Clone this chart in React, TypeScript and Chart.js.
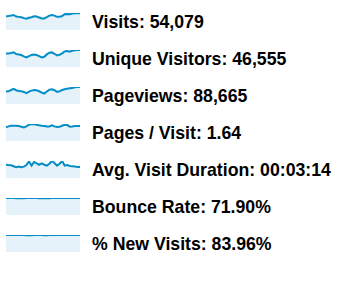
import React, { useEffect, useRef } from "react";
import { Chart, registerables } from "chart.js";

Chart.register(...registerables);

const days = [
  "1", "2", "3", "4", "5", "6", "7", "8", "9", "10",
  "11", "12", "13", "14", "15", "16", "17", "18", "19", "20",
  "21", "22", "23", "24", "25", "26", "27", "28", "29", "30",
];

const metricNames = [
  "Visits",
  "Unique Visitors",
  "Pageviews",
  "Pages / Visit",
  "Avg. Visit Duration",
  "Bounce Rate",
  "% New Visits",
];

const metricTotals = [
  "54,079",
  "46,555",
  "88,665",
  "1.64",
  "00:03:14",
  "71.90%",
  "83.96%",
];

const visits = [
  1730, 1770, 1820, 1900, 1700, 1660, 1620, 1500, 1420, 1540,
  1620, 1730, 1700, 1580, 1460, 1460, 1620, 1820, 1900, 1820,
  1660, 1660, 1770, 2000, 2030, 2000, 2080, 2110, 2150, 2110,
];

const uniqueVisitors = [
  1480, 1480, 1520, 1590, 1410, 1370, 1300, 1150, 1040, 1190,
  1300, 1370, 1300, 1190, 1040, 1110, 1370, 1550, 1590, 1440,
  1260, 1330, 1480, 1700, 1740, 1660, 1780, 1810, 1850, 1850,
];

const pageviews = [
  2560, 2620, 2890, 3100, 2830, 2690, 2620, 2490, 2220, 2560,
  2760, 2890, 2830, 2620, 2360, 2150, 2560, 2960, 3030, 2830,
  2490, 2620, 2890, 3030, 3160, 3230, 3300, 3430, 3500, 3500,
];

const pagesPerVisit = [
  1.42, 1.53, 1.6, 1.6, 1.6, 1.57, 1.5, 1.42, 1.53, 1.71,
  1.78, 1.74, 1.71, 1.64, 1.6, 1.57, 1.53, 1.53, 1.64, 1.53,
  1.46, 1.5, 1.6, 1.71, 1.67, 1.5, 1.53, 1.57, 1.57, 1.57,
];

const avgDuration = [
  187, 182, 180, 166, 151, 161, 151, 161, 182, 235,
  175, 226, 206, 187, 206, 187, 175, 202, 240, 211,
  175, 202, 240, 175, 182, 170, 166, 161, 156, 156,
];

const bounceRate = [
  72.6, 72.5, 72.4, 72.3, 72.0, 71.4, 71.2, 71.6, 72.2, 72.4,
  72.5, 72.3, 72.2, 72.0, 71.5, 71.3, 71.2, 71.6, 72.1, 72.3,
  72.4, 72.5, 72.4, 72.5, 72.3, 72.4, 72.5, 72.4, 72.5, 72.6,
];

const newVisits = [
  84.6, 84.5, 84.6, 84.5, 84.4, 84.5, 84.6, 84.0, 83.6, 83.5,
  83.6, 84.2, 84.5, 84.3, 84.0, 83.6, 83.5, 84.0, 84.3, 84.5,
  84.4, 84.5, 84.6, 84.5, 84.4, 84.2, 84.0, 84.3, 84.5, 84.6,
];

const seriesList = [
  visits,
  uniqueVisitors,
  pageviews,
  pagesPerVisit,
  avgDuration,
  bounceRate,
  newVisits,
];

const LINE = "#058dc7";
const FILL = "#e6f2fa";
const ROW_H = 37;

function Sparkline({ data }: { data: number[] }) {
  const ref = useRef<HTMLCanvasElement | null>(null);
  useEffect(() => {
    if (!ref.current) return;
    const chart = new Chart(ref.current, {
      type: "line",
      data: {
        labels: days,
        datasets: [
          {
            data,
            borderColor: LINE,
            backgroundColor: FILL,
            borderWidth: 2,
            fill: "origin",
            pointRadius: 0,
            tension: 0,
          },
        ],
      },
      options: {
        responsive: false,
        animation: false,
        events: [],
        layout: { padding: { top: 4, left: 1, right: 1, bottom: 0 } },
        plugins: { legend: { display: false }, tooltip: { enabled: false } },
        scales: {
          x: { display: false },
          y: { display: false, min: 0, max: Math.max(...data) },
        },
      },
    });
    return () => chart.destroy();
  }, [data]);
  return (
    <canvas
      ref={ref}
      width={76}
      height={21}
      style={{ position: "absolute", left: 5, top: 9, width: 76, height: 21 }}
    />
  );
}

export default function App() {
  return (
    <div
      style={{
        position: "absolute",
        left: 0,
        top: 0,
        width: 350,
        height: 294,
        background: "#ffffff",
        overflow: "hidden",
        fontFamily: "'Liberation Sans', Arial, Helvetica, sans-serif",
      }}
    >
      {metricNames.map((name, i) => (
        <div
          key={name}
          style={{ position: "absolute", left: 0, top: i * ROW_H, width: 350, height: ROW_H }}
        >
          <Sparkline data={seriesList[i]} />
          <div
            style={{
              position: "absolute",
              left: 92,
              top: 13,
              fontSize: 17.7,
              lineHeight: "18px",
              fontWeight: "bold",
              color: "#000",
              whiteSpace: "nowrap",
            }}
          >
            {name}: {metricTotals[i]}
          </div>
        </div>
      ))}
    </div>
  );
}
